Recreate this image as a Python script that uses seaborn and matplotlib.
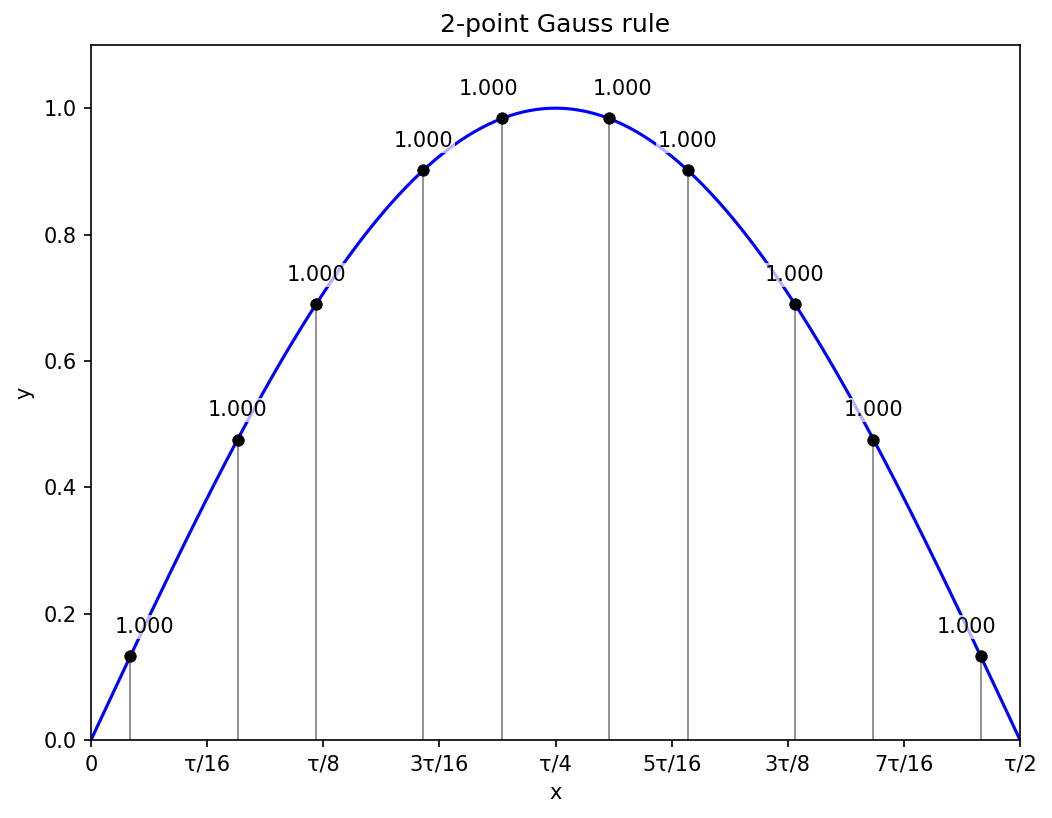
import numpy as np
import matplotlib
matplotlib.use("Agg")
import matplotlib.pyplot as plt
import seaborn as sns

# Gauss nodes (x) and function values
node_x = [0.1327, 0.4955, 0.7610, 1.1237, 1.3893, 1.7523, 2.0178, 2.3806, 2.6461, 3.0089]
node_y = [0.1323, 0.4755, 0.6895, 0.9020, 0.9837, 0.9837, 0.9020, 0.6895, 0.4755, 0.1323]
node_labels = ["1.000"] * 10

tick_labels = ["0", "τ/16", "τ/8", "3τ/16", "τ/4", "5τ/16", "3τ/8", "7τ/16", "τ/2"]

# integrand curve: y = sin(x) on [0, τ/2]
curve_x = np.linspace(0, np.pi, 400)
curve_y = np.sin(curve_x)

plt.rcParams['font.family'] = ['DejaVu Sans']
fig, ax = plt.subplots(figsize=(1052/150, 818/150), dpi=150)
fig.subplots_adjust(left=0.0865, right=0.9696, top=0.945, bottom=0.0954)

sns.lineplot(x=curve_x, y=curve_y, ax=ax, color="blue", linewidth=1.5)
ax.vlines(node_x, 0, node_y, color="gray", linewidth=0.8)
sns.scatterplot(x=node_x, y=node_y, ax=ax, color="black", s=30, zorder=5, edgecolor="black")

# horizontal label nudges (points) to avoid overlaps
dx = {0: 6.7, 4: -6.5, 5: 6.3, 9: -6.7}
for i, (x, y, lab) in enumerate(zip(node_x, node_y, node_labels)):
    ax.annotate(lab, (x, y), textcoords="offset points", xytext=(dx.get(i, 0), 14),
                ha="center", va="center", fontsize=10, zorder=6,
                bbox=dict(boxstyle="square,pad=0.1", facecolor="white", edgecolor="none", alpha=0.7))

ax.set_xlim(0, np.pi)
ax.set_ylim(0, 1.1)
ax.set_xticks([k * np.pi / 8 for k in range(9)])
ax.set_xticklabels(tick_labels)
ax.set_xlabel("x")
ax.set_ylabel("y")
ax.set_title("2-point Gauss rule")

fig.savefig("out.png", dpi=150)
